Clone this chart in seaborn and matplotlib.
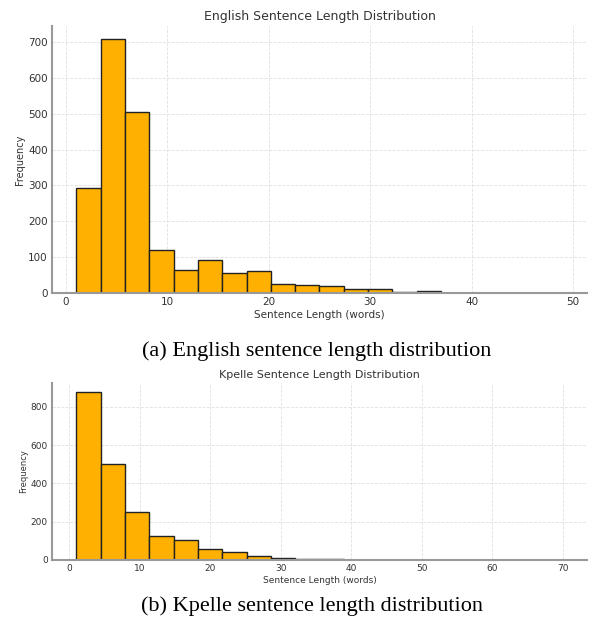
import numpy as np
import pandas as pd
import matplotlib
matplotlib.use("Agg")
from matplotlib import pyplot as plt
import seaborn as sns

# histogram counts
en_counts = [292, 710, 505, 120, 63, 93, 55, 60, 25, 22, 20, 12, 10, 2, 5, 0, 0, 0, 1, 1]
en_range = (1, 49)
kp_counts = [880, 500, 250, 125, 105, 55, 40, 20, 10, 5, 3, 2, 0, 1, 0, 0, 0, 0, 0, 1]
kp_range = (1, 70)

sns.set_style("whitegrid", {"grid.linestyle": "--", "grid.color": "#e0e0e0",
                            "axes.edgecolor": "#999999"})
plt.rcParams["font.family"] = ["DejaVu Sans"]
plt.rcParams["grid.linewidth"] = 0.6

fig = plt.figure(figsize=(5.9, 6.18), dpi=100)
ax1 = fig.add_axes([0.088, 0.526, 0.907, 0.432])
ax2 = fig.add_axes([0.088, 0.094, 0.907, 0.286])


def draw(ax, counts, rng, title, fs):
    edges = np.linspace(rng[0], rng[1], len(counts) + 1)
    df = pd.DataFrame({"len": (edges[:-1] + edges[1:]) / 2, "n": counts})
    sns.histplot(data=df, x="len", weights="n", binrange=rng,
                 binwidth=(rng[1] - rng[0]) / len(counts), ax=ax,
                 color="#ffb000", alpha=1, edgecolor="#222222", linewidth=1)
    ax.set_title(title, fontsize=fs + 1.5, color="#333333", pad=4)
    ax.set_xlabel("Sentence Length (words)", fontsize=fs, color="#333333", labelpad=2)
    ax.set_ylabel("Frequency", fontsize=fs - 0.5, color="#333333", labelpad=2)
    ax.tick_params(labelsize=fs, colors="#333333", length=0, pad=3)
    ax.margins(x=0.05)
    for s in ["top", "right"]:
        ax.spines[s].set_visible(False)
    for s in ["left", "bottom"]:
        ax.spines[s].set_linewidth(1.5)


draw(ax1, en_counts, en_range, "English Sentence Length Distribution", 7.5)
ax1.set_xticks([0, 10, 20, 30, 40, 50])
draw(ax2, kp_counts, kp_range, "Kpelle Sentence Length Distribution", 6.5)
ax2.set_xticks([0, 10, 20, 30, 40, 50, 60, 70])

fig.text(0.537, 0.432, "(a) English sentence length distribution",
         family="Liberation Serif", fontsize=16, ha="center", va="center", color="black")
fig.text(0.529, 0.019, "(b) Kpelle sentence length distribution",
         family="Liberation Serif", fontsize=16, ha="center", va="center", color="black")

fig.savefig("out.png", dpi=100)
